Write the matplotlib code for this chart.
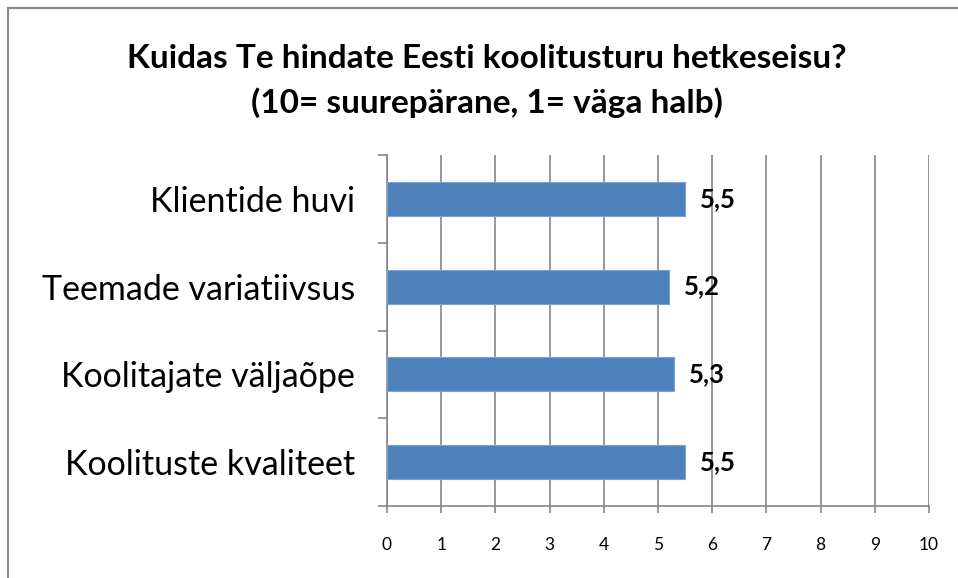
import matplotlib
matplotlib.use('Agg')
import matplotlib.pyplot as plt
from matplotlib.patches import Rectangle
import numpy as np

plt.rcParams['font.family'] = ['Lato', 'DejaVu Sans']

# survey answers, listed bottom to top
categories = ['Koolituste kvaliteet', 'Koolitajate väljaõpe',
              'Teemade variatiivsus', 'Klientide huvi']
scores = [5.5, 5.3, 5.2, 5.5]
score_labels = ['5,5', '5,3', '5,2', '5,5']
x_ticks = list(range(0, 11))

bar_color = '#4F81BD'
grid_color = '#868686'

fig = plt.figure(figsize=(9.58, 5.78), dpi=100)
ax = fig.add_axes([387 / 958, 1 - 506 / 578, 542 / 958, 351 / 578])

y = np.arange(len(categories))
ax.barh(y, scores, height=0.39, color=bar_color, edgecolor='#7FA3D0',
        linewidth=0.8, zorder=3)

for yi, v, lab in zip(y, scores, score_labels):
    ax.text(v + 0.28, yi, lab, va='center', ha='left', fontsize=18.5,
            fontweight='bold', color='black', zorder=4)

ax.set_xlim(0, 10)
ax.set_ylim(-0.5, len(categories) - 0.5)
ax.set_xticks(x_ticks)
ax.set_xticklabels([str(t) for t in x_ticks], fontsize=12.5)
ax.set_yticks(y)
ax.set_yticklabels(categories, fontsize=24.5)
ax.set_yticks(np.arange(-0.5, len(categories), 1.0), minor=True)

ax.tick_params(axis='y', which='major', length=0, pad=23)
ax.tick_params(axis='y', which='minor', length=6.5, width=1.2, color=grid_color)
ax.tick_params(axis='x', length=5, width=1.2, color=grid_color, pad=17)

ax.grid(axis='x', color=grid_color, linewidth=1.2, zorder=0)
for side in ['top', 'right']:
    ax.spines[side].set_visible(False)
for side in ['left', 'bottom']:
    ax.spines[side].set_color(grid_color)
    ax.spines[side].set_linewidth(1.2)

fig.text(487 / 958, 1 - 58 / 578, 'Kuidas Te hindate Eesti koolitusturu hetkeseisu?',
         ha='center', va='center', fontsize=24, fontweight='bold')
fig.text(487 / 958, 1 - 103 / 578, '(10= suurepärane, 1= väga halb)',
         ha='center', va='center', fontsize=24, fontweight='bold')

# outer chart frame
fig.patches.append(Rectangle((8 / 958, -0.05), 1.0, 1 - 8 / 578 + 0.05,
                             transform=fig.transFigure, fill=False,
                             edgecolor='#898989', linewidth=1.5))

fig.savefig('out.png', dpi=100)
